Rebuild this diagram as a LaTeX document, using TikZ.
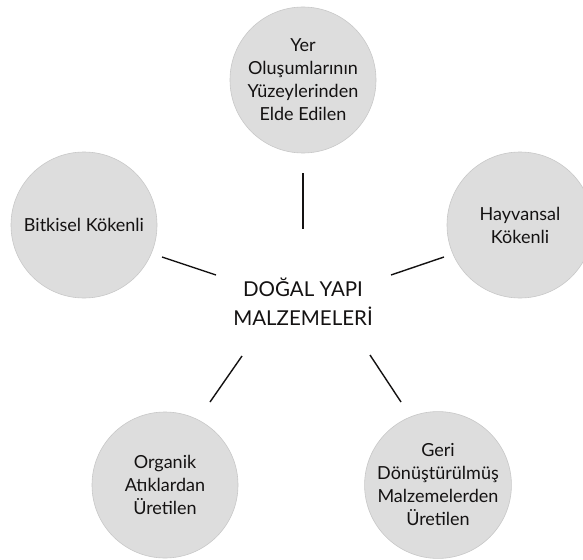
\documentclass[tikz,border=0pt]{standalone}
\usepackage{fontspec}
\setmainfont{Lato}
\definecolor{circfill}{RGB}{221,221,221}
\definecolor{circedge}{RGB}{200,200,200}
\definecolor{ink}{RGB}{20,18,18}
\begin{document}
\begin{tikzpicture}[x=1pt,y=-1pt,
  bubble/.style={circle,fill=circfill,draw=circedge,line width=0.6pt,minimum size=146pt,inner sep=0pt,align=center,text=ink,font=\fontsize{18}{23}\selectfont},
  hubtext/.style={align=center,text=ink,font=\fontsize{20.5}{29}\selectfont},
  link/.style={draw=ink,line width=1.4pt}]
\clip (0,0) rectangle (583,559);
\fill[white] (0,0) rectangle (583,559);
\node[hubtext] (hub) at (303,302) {DOĞAL YAPI\\MALZEMELERİ};
\node[bubble] (top) at (303,80) {Yer\\Oluşumlarının\\Yüzeylerinden\\Elde Edilen};
\node[bubble] (left) at (84,225) {Bitkisel Kökenli};
\node[bubble] (right) at (520,225) {Hayvansal\\Kökenli};
\node[bubble] (bl) at (165,485) {Organik\\Atıklardan\\Üretilen};
\node[bubble] (br) at (438,485) {Geri\\Dönüştürülmüş\\Malzemelerden\\Üretilen};
\coordinate (t1) at (303,173); \coordinate (t2) at (303,229);
\coordinate (l1) at (162,257); \coordinate (l2) at (216,275);
\coordinate (r1) at (444,257); \coordinate (r2) at (391,275);
\coordinate (a1) at (242,356); \coordinate (a2) at (210,402);
\coordinate (b1) at (370,355); \coordinate (b2) at (401,402);
\draw[link] (t1) -- (t2);
\draw[link] (l1) -- (l2);
\draw[link] (r1) -- (r2);
\draw[link] (a1) -- (a2);
\draw[link] (b1) -- (b2);
\end{tikzpicture}
\end{document}
